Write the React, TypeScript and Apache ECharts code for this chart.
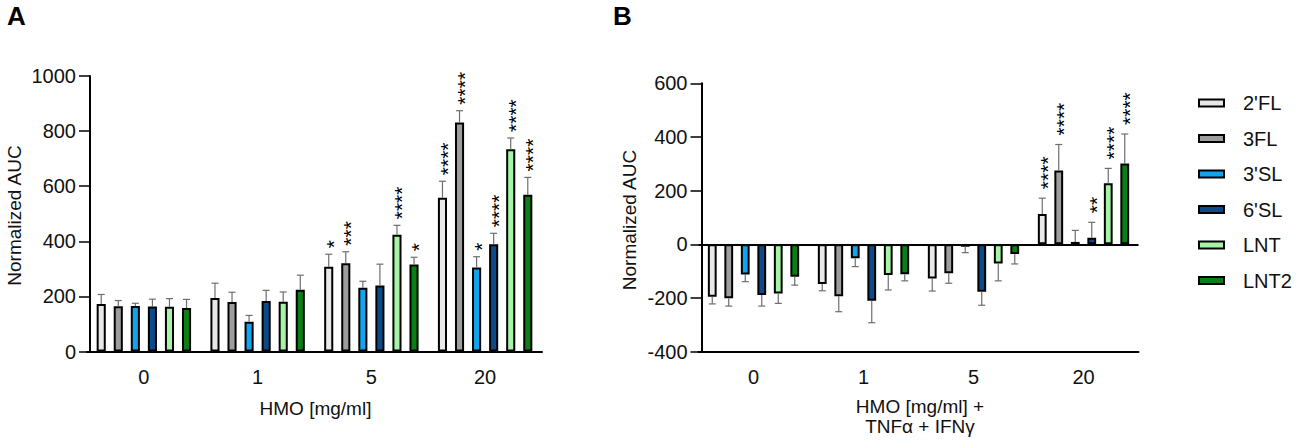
import React, { useEffect, useRef } from "react";
import * as echarts from "echarts";

const categories = ["0", "1", "5", "20"];
const seriesNames = ["2'FL", "3FL", "3'SL", "6'SL", "LNT", "LNT2"];
const colors = ["#e8e8e8", "#9d9d9d", "#12a5ef", "#0b4b8a", "#a6f5a6", "#0a7f14"];

// Panel A: HMO alone
const aMean = [
  [172, 194, 308, 558],
  [164, 180, 320, 831],
  [165, 108, 231, 305],
  [163, 183, 240, 389],
  [162, 181, 424, 734],
  [158, 224, 316, 569],
];
const aSd = [
  [35, 54, 45, 60],
  [21, 35, 42, 43],
  [10, 23, 24, 39],
  [27, 39, 77, 40],
  [30, 35, 34, 41],
  [31, 53, 26, 63],
];
const aStars = [
  ["", "", "*", "****"],
  ["", "", "***", "****"],
  ["", "", "", "*"],
  ["", "", "", "****"],
  ["", "", "****", "****"],
  ["", "", "*", "****"],
];

// Panel B: HMO + TNFα + IFNγ
const bMean = [
  [-195, -148, -127, 113],
  [-201, -193, -108, 275],
  [-112, -52, -9, 9],
  [-189, -210, -177, 25],
  [-183, -114, -71, 228],
  [-121, -111, -36, 301],
];
const bSd = [
  [27, 25, 47, 59],
  [29, 58, 37, 97],
  [27, 31, 22, 43],
  [41, 82, 50, 57],
  [37, 56, 65, 55],
  [31, 25, 37, 110],
];
const bStars = [
  ["", "", "", "****"],
  ["", "", "", "****"],
  ["", "", "", ""],
  ["", "", "", "**"],
  ["", "", "", "****"],
  ["", "", "", "****"],
];

const aTicks = [0, 200, 400, 600, 800, 1000];
const bTicks = [-400, -200, 0, 200, 400, 600];

const FONT = "'Liberation Sans', Arial, Helvetica, sans-serif";
const PITCH = 0.15; // fraction of band between neighbouring bars
const STAR_FS = 21;
const STAR_STEP = 8.2;

function makeErrorSeries(mean: number[][], sd: number[][], stars: string[][], axisIndex: number, withZero: boolean, gap: number) {
  const data: number[][] = [];
  const starList: string[] = [];
  mean.forEach((row, s) => {
    row.forEach((v, c) => {
      data.push([c, s, v, sd[s][c]]);
      starList.push(stars[s][c]);
    });
  });
  const series: any = {
    type: "custom",
    xAxisIndex: axisIndex,
    yAxisIndex: axisIndex,
    z: 5,
    silent: true,
    encode: { x: 0, y: 2 },
    data,
    renderItem: (params: any, api: any) => {
      const cat = api.value(0);
      const s = api.value(1);
      const m = api.value(2);
      const e = api.value(3);
      const band = api.size([1, 0])[0];
      const x = api.coord([cat, 0])[0] + (s - 2.5) * PITCH * band;
      const end = m >= 0 ? m + e : m - e;
      const y0 = api.coord([cat, m])[1];
      const y1 = api.coord([cat, end])[1];
      const lineStyle = { stroke: "#6e6e6e", lineWidth: 1.2 };
      const children: any[] = [
        { type: "line", shape: { x1: x, y1: y0, x2: x, y2: y1 }, style: lineStyle },
        { type: "line", shape: { x1: x - 3.5, y1: y1, x2: x + 3.5, y2: y1 }, style: lineStyle },
      ];
      const st = starList[params.dataIndex];
      for (let k = 0; k < st.length; k++) {
        children.push({
          type: "text",
          x: x + 0.23 * STAR_FS,
          y: y1 - gap - (k + 0.5) * STAR_STEP,
          rotation: Math.PI / 2,
          style: {
            text: "*",
            x: 0,
            y: 0,
            align: "center",
            verticalAlign: "middle",
            font: `${STAR_FS}px ${FONT}`,
            fill: "#000",
          },
        });
      }
      return { type: "group", children };
    },
  };
  if (withZero) {
    series.markLine = {
      silent: true,
      symbol: ["none", "none"],
      label: { show: false },
      lineStyle: { color: "#000", width: 2, type: "solid" },
      data: [{ yAxis: 0 }],
    };
  }
  return series;
}

function barSeries(mean: number[][], axisIndex: number) {
  return mean.map((vals, s) => ({
    type: "bar",
    name: seriesNames[s],
    xAxisIndex: axisIndex,
    yAxisIndex: axisIndex,
    data: vals,
    barWidth: "8%",
    barGap: "87.5%",
    itemStyle: { color: colors[s], borderColor: "#000", borderWidth: 2 },
    z: 3,
  }));
}

const axisTextStyle = { color: "#111", fontSize: 20, fontFamily: FONT };

function xAxisCfg(gridIndex: number) {
  return {
    type: "category",
    gridIndex,
    data: categories,
    axisLine: { onZero: false, lineStyle: { color: "#000", width: 2 } },
    axisTick: { alignWithLabel: true, length: 10, lineStyle: { color: "#000", width: 1.5 } },
    axisLabel: { ...axisTextStyle, margin: 15 },
    splitLine: { show: false },
  };
}

function yAxisCfg(gridIndex: number, ticks: number[]) {
  return {
    type: "value",
    gridIndex,
    min: ticks[0],
    max: ticks[ticks.length - 1],
    interval: ticks[1] - ticks[0],
    offset: -3,
    axisLine: { show: true, lineStyle: { color: "#000", width: 2 } },
    axisTick: { show: true, length: 11, lineStyle: { color: "#000", width: 1.5 } },
    axisLabel: { ...axisTextStyle, margin: 14, formatter: (v: number) => String(v) },
    splitLine: { show: false },
  };
}

export default function App() {
  const ref = useRef<HTMLDivElement>(null);
  useEffect(() => {
    if (!ref.current) return;
    const chart = echarts.init(ref.current, undefined, { renderer: "svg" });
    const legend: any[] = [];
    seriesNames.forEach((n, i) => {
      const cy = 103 + i * 35.5;
      legend.push({
        type: "rect",
        shape: { x: 1199, y: cy - 3.5, width: 25, height: 7 },
        style: { fill: colors[i], stroke: "#000", lineWidth: 2 },
      });
      legend.push({
        type: "text",
        style: { text: n, x: 1243, y: cy, verticalAlign: "middle", align: "left", font: `20px ${FONT}`, fill: "#111" },
      });
    });
    const option: any = {
      animation: false,
      backgroundColor: "#fff",
      grid: [
        { left: 87, top: 76, width: 455, height: 275.5 },
        { left: 698.5, top: 83.3, width: 440, height: 268.4 },
      ],
      xAxis: [xAxisCfg(0), xAxisCfg(1)],
      yAxis: [yAxisCfg(0, aTicks), yAxisCfg(1, bTicks)],
      series: [
        ...barSeries(aMean, 0),
        ...barSeries(bMean, 1),
        makeErrorSeries(aMean, aSd, aStars, 0, false, 6),
        makeErrorSeries(bMean, bSd, bStars, 1, true, 9),
      ],
      graphic: [
        { type: "text", style: { text: "A", x: 7, y: 16, verticalAlign: "middle", font: `bold 26px ${FONT}`, fill: "#000" } },
        { type: "text", style: { text: "B", x: 613, y: 16, verticalAlign: "middle", font: `bold 26px ${FONT}`, fill: "#000" } },
        {
          type: "text",
          x: 14,
          y: 215.5,
          rotation: Math.PI / 2,
          style: { text: "Normalized AUC", x: 0, y: 0, align: "center", verticalAlign: "middle", font: `19px ${FONT}`, fill: "#111" },
        },
        {
          type: "text",
          x: 629,
          y: 220,
          rotation: Math.PI / 2,
          style: { text: "Normalized AUC", x: 0, y: 0, align: "center", verticalAlign: "middle", font: `19px ${FONT}`, fill: "#111" },
        },
        {
          type: "text",
          style: { text: "HMO [mg/ml]", x: 315.5, y: 408, align: "center", verticalAlign: "middle", font: `19px ${FONT}`, fill: "#111" },
        },
        {
          type: "text",
          style: { text: "HMO [mg/ml] +", x: 920, y: 406.7, align: "center", verticalAlign: "middle", font: `19px ${FONT}`, fill: "#111" },
        },
        {
          type: "text",
          style: { text: "TNFα + IFNγ", x: 920, y: 426.7, align: "center", verticalAlign: "middle", font: `19px ${FONT}`, fill: "#111" },
        },
        ...legend,
      ],
    };
    chart.setOption(option);
    return () => chart.dispose();
  }, []);
  return <div ref={ref} style={{ position: "fixed", left: 0, top: 0, width: 1299, height: 441 }} />;
}
